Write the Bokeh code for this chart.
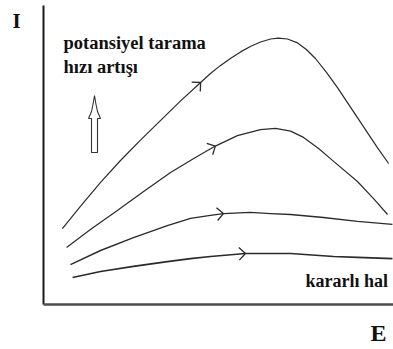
import numpy as np
from bokeh.plotting import figure
from bokeh.models import Range1d
from bokeh.core.properties import value
from bokeh.embed import file_html
from bokeh.resources import INLINE

# Current (I) versus potential (E) for increasing potential scan rates.
# Values are in arbitrary units: E from 0 to 100, I from 0 upward.
E_fast = [5.4, 10.6, 16.3, 22.0, 27.7, 33.4, 39.1, 44.9, 47.7, 50.6, 53.4, 56.3,
          59.1, 62.0, 64.9, 67.1, 69.7, 72.6, 75.1, 77.7, 80.9, 84.0, 89.7, 95.4, 98.6]
I_fast = [25.3, 32.8, 40.7, 48.0, 54.8, 61.3, 67.8, 74.0, 77.0, 79.7, 82.0, 84.2,
          86.0, 87.5, 88.5, 88.8, 88.5, 87.2, 85.0, 82.0, 77.3, 72.3, 62.3, 52.3, 47.0]

E_mid = [6.6, 13.4, 21.1, 28.6, 36.3, 43.4, 49.1, 55.4, 62.0, 66.3, 70.6, 74.3,
         78.6, 82.9, 89.7, 94.3, 98.3]
I_mid = [19.0, 25.0, 31.3, 37.7, 44.0, 49.0, 52.8, 56.3, 58.3, 58.7, 57.8, 55.7,
         52.0, 47.7, 41.0, 35.3, 30.0]

E_slow = [7.7, 16.3, 25.7, 35.4, 42.0, 47.7, 51.4, 59.1, 64.9, 70.6, 80.0, 89.7, 99.7]
I_slow = [13.3, 18.0, 22.3, 26.3, 28.7, 29.7, 30.3, 30.7, 30.3, 30.0, 29.0, 27.7, 26.7]

E_steady = [8.3, 16.3, 25.7, 35.4, 42.0, 47.7, 57.7, 70.6, 82.9, 89.7, 99.7]
I_steady = [9.0, 11.0, 12.7, 14.3, 15.3, 16.0, 17.0, 17.0, 16.0, 15.7, 15.3]

# Where each curve carries its direction-of-scan arrow (E value)
arrow_E = [44.9, 49.1, 51.4, 57.7]

label_rate = ["potansiyel tarama", "hızı artışı"]
label_steady = "kararlı hal"
label_I = "I"
label_E = "E"

W, H = 393, 349
ORIGIN_X, ORIGIN_Y = 43, 304      # pixel position of the axes' corner
SX, SY = 3.5, 3.0                 # pixels per unit along E and I

p = figure(width=W, height=H, output_backend="svg", toolbar_location=None,
           x_range=Range1d(-ORIGIN_X / SX, (W - ORIGIN_X) / SX),
           y_range=Range1d(-(H - ORIGIN_Y) / SY, ORIGIN_Y / SY),
           x_axis_location=None, y_axis_location=None,
           min_border=0, outline_line_color=None, background_fill_color="white",
           border_fill_color="white")
p.grid.visible = False

# axes
top_I = (ORIGIN_Y - 5) / SY
right_E = (W - ORIGIN_X) / SX
p.line([0, 0], [0, top_I], line_color="#1a1a1a", line_width=2)
p.line([0, right_E], [0, 0], line_color="#4d4d4d", line_width=2.5)

curves = [(E_fast, I_fast, 1.2), (E_mid, I_mid, 1.2),
          (E_slow, I_slow, 1.4), (E_steady, I_steady, 1.7)]
for (ex, iy, lw) in curves:
    p.line(ex, iy, line_color="#2b2b2b", line_width=lw, line_join="round")

# open chevron arrowheads, oriented along each curve
arm_px = 9.0
half = np.radians(45)
xs, ys = [], []
for (ex, iy, _), ea in zip(curves, arrow_E):
    ex = np.asarray(ex); iy = np.asarray(iy)
    ia = np.interp(ea, ex, iy)
    d = 1.5
    dy = (np.interp(ea + d, ex, iy) - np.interp(ea - d, ex, iy)) * SY
    dx = 2 * d * SX
    back = np.arctan2(-dy, -dx)
    a1, a2 = back + half, back - half
    xs.append([ea + arm_px * np.cos(a1) / SX, ea, ea + arm_px * np.cos(a2) / SX])
    ys.append([ia + arm_px * np.sin(a1) / SY, ia, ia + arm_px * np.sin(a2) / SY])
p.multi_line(xs, ys, line_color="#2b2b2b", line_width=1.3)

# hollow upward arrow (pixel outline converted to data units)
arrow_px = [(94, 95), (95.5, 104), (97, 111), (100, 118), (97, 118), (97, 152),
            (91, 152), (91, 118), (88, 118), (91, 111), (92.5, 104)]
ax_ = [(x - ORIGIN_X) / SX for x, _ in arrow_px]
ay_ = [(ORIGIN_Y - y) / SY for _, y in arrow_px]
p.patch(ax_, ay_, fill_color="white", line_color="#333333", line_width=1.1)

font = value("Liberation Serif")
def put(txt, px, py, size):
    p.text(x=[(px - ORIGIN_X) / SX], y=[(ORIGIN_Y - py) / SY], text=[txt],
           text_font=font, text_font_style="bold", text_font_size=size,
           text_color="#111111", text_baseline="alphabetic", text_align="left")

put(label_rate[0], 63, 42, "18.5px")
put(label_rate[1], 63, 66, "18.5px")
put(label_steady, 305, 280, "18px")
put(label_I, 12, 20, "21px")
put(label_E, 370, 332, "24px")

open("out.html", "w").write(file_html(p, INLINE))
